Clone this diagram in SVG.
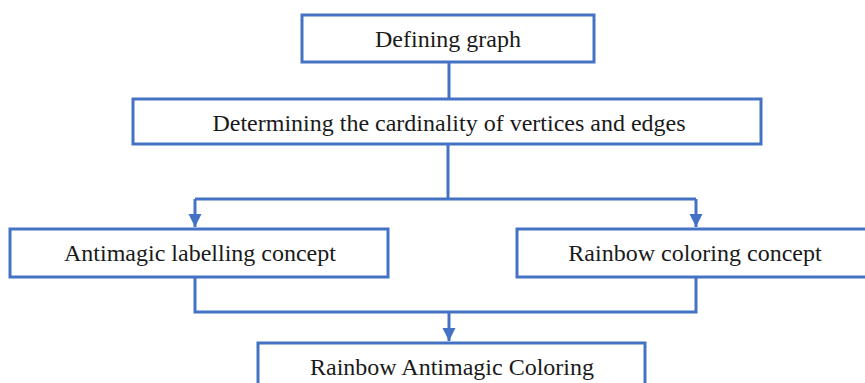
<svg xmlns="http://www.w3.org/2000/svg" width="865" height="383" viewBox="0 0 865 383">
  <style>
    .box { fill: #ffffff; stroke: #4472C4; stroke-width: 3; }
    .lbl { font-family: "Liberation Serif", "Times New Roman", serif; font-size: 24px; fill: #1a1a1a; text-anchor: middle; }
    .conn { fill: none; stroke: #4472C4; stroke-width: 3; }
  </style>
  <defs>
    <marker id="arrow" markerUnits="userSpaceOnUse" markerWidth="14" markerHeight="14" refX="13" refY="6.5" orient="auto">
      <path d="M0,0 L13,6.5 L0,13 z" fill="#4472C4"/>
    </marker>
  </defs>
  <rect width="865" height="383" fill="#ffffff"/>
  <g id="connectors">
    <path class="conn" d="M449,62 L449,99"/>
    <path class="conn" d="M448,144 L448,199"/>
    <path class="conn" d="M195,199 L696,199"/>
    <path class="conn" d="M195,199 L195,227" marker-end="url(#arrow)"/>
    <path class="conn" d="M696,199 L696,227" marker-end="url(#arrow)"/>
    <path class="conn" d="M195,277 L195,312 L696,312 L696,277"/>
    <path class="conn" d="M449,312 L449,341" marker-end="url(#arrow)"/>
  </g>
  <g id="node-defining-graph">
    <rect class="box" x="302" y="15" width="292" height="47"/>
    <text class="lbl" x="448" y="47">Defining graph</text>
  </g>
  <g id="node-cardinality">
    <rect class="box" x="133" y="99" width="628" height="45"/>
    <text class="lbl" x="449" y="131">Determining the cardinality of vertices and edges</text>
  </g>
  <g id="node-antimagic">
    <rect class="box" x="10" y="229" width="378" height="48"/>
    <text class="lbl" x="200" y="261">Antimagic labelling concept</text>
  </g>
  <g id="node-rainbow">
    <rect class="box" x="517" y="229" width="357" height="48"/>
    <text class="lbl" x="695" y="261">Rainbow coloring concept</text>
  </g>
  <g id="node-rainbow-antimagic">
    <rect class="box" x="258" y="343" width="387" height="60"/>
    <text class="lbl" x="452" y="375">Rainbow Antimagic Coloring</text>
  </g>
</svg>
